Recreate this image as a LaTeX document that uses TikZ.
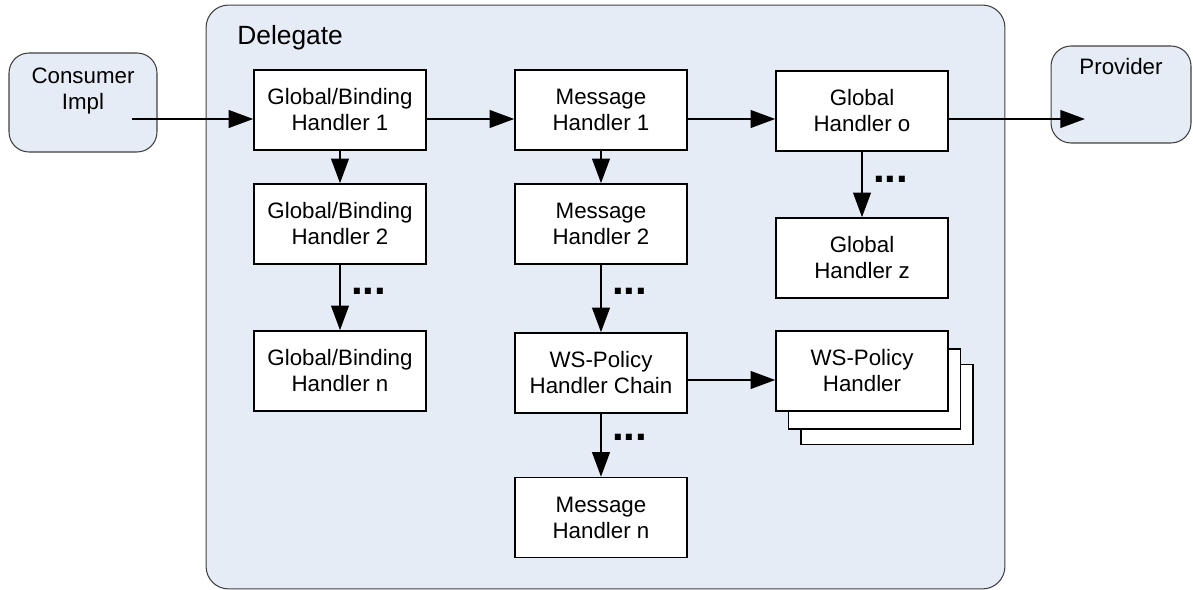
\documentclass[tikz,border=0pt]{standalone}
\usepackage{fontspec}
\setmainfont{Liberation Sans}
\usetikzlibrary{arrows.meta,calc,positioning}
\definecolor{panelblue}{RGB}{229,236,246}

\begin{document}
\begin{tikzpicture}[x=0.02cm, y=-0.02cm,
    box/.style={draw, fill=white, line width=0.85pt, minimum width=3.44cm, minimum height=1.6cm, align=center, inner sep=0pt},
    ext/.style={draw=black!75, fill=panelblue, rounded corners=0.4cm, line width=0.6pt},
    flow/.style={line width=1.3pt, -{Triangle[length=14pt,width=10pt]}},
    moredots/.style={anchor=west, inner sep=0pt, xshift=0.2cm, font=\fontsize{24}{24}\bfseries\selectfont},
    every node/.style={font=\fontsize{12.7}{14.8}\selectfont}
]
\useasboundingbox (0,0) rectangle (1193,590);

%------------------------ 外框 ------------------------
\node[ext, rounded corners=0.45cm, minimum width=15.98cm, minimum height=11.68cm] (deleg) at (605.5,297) {};
\node[anchor=west, inner sep=0pt, font=\fontsize{15}{18}\selectfont] (delegLbl) at (237,38) {Delegate};

\node[ext, minimum width=2.96cm, minimum height=1.98cm,
      label={[anchor=north, align=center, yshift=-5.5pt]north:{Consumer\\Impl}}] (cons) at (83,102.5) {};
\node[ext, minimum width=2.8cm, minimum height=1.94cm,
      label={[anchor=north, yshift=-4pt]north:Provider}] (prov) at (1121,94.5) {};

\coordinate (consOut) at (132,119);
\coordinate (provIn) at (1085,119);

%------------------------ 处理器 ------------------------
% Global/Binding
\node[box] (gb1) at (340,110) {Global/Binding\\Handler 1};
\node[box] (gb2) at (340,224) {Global/Binding\\Handler 2};
\node[box] (gbn) at (340,371) {Global/Binding\\Handler n};

% Message
\node[box] (mh1) at (601,110) {Message\\Handler 1};
\node[box] (mh2) at (601,224) {Message\\Handler 2};
\node[box] (chain) at (601,373) {WS-Policy\\Handler Chain};
\node[box] (mhn) at (601,517.5) {Message\\Handler n};

% Global
\node[box] (gho) at (862,111) {Global\\Handler o};
\node[box] (ghz) at (862,258) {Global\\Handler z};

% WS-Policy 叠放
\node[box] (wsC) at (887,404.5) {};
\node[box] (wsB) at (874.5,389) {};
\node[box] (wsA) at (862,371) {WS-Policy\\Handler};

%------------------------ 连接线 ------------------------
\draw[flow] (consOut) -- (consOut -| gb1.west);
\draw[flow] (gb1.east |- consOut) -- (mh1.west |- consOut);
\draw[flow] (mh1.east |- consOut) -- (gho.west |- consOut);
\draw[flow] (gho.east |- consOut) -- (provIn);

\draw[flow] (gb1) -- (gb2);
\draw[flow] (gb2) -- node[moredots, pos=0.4] (dotsA) {...} (gbn);

\draw[flow] (mh1) -- (mh2);
\draw[flow] (mh2) -- node[moredots, pos=0.4] (dotsB) {...} (chain);
\draw[flow] (chain) -- node[moredots, pos=0.37] (dotsC) {...} (mhn);

\draw[flow] (gho) -- node[moredots, pos=0.42] (dotsD) {...} (ghz);

\draw[flow] ([yshift=-0.14cm]chain.east) -- ([yshift=-0.14cm]chain.east -| wsA.west);

\end{tikzpicture}
\end{document}
